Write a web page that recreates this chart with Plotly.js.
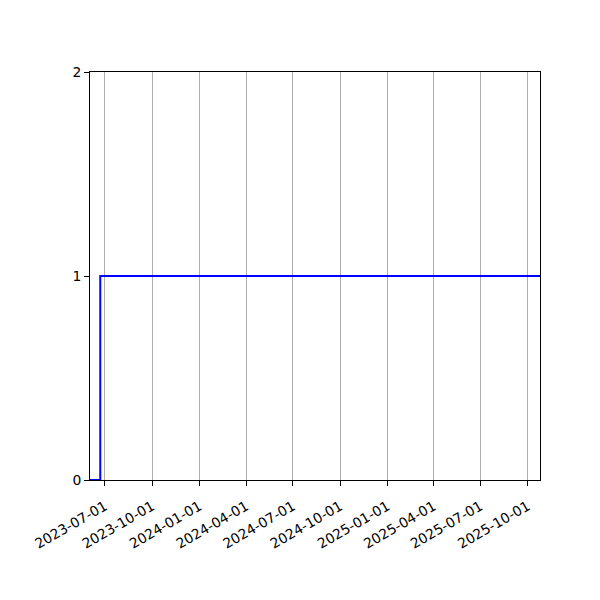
<!DOCTYPE html>
<html>
<head>
<meta charset="utf-8">
<script src="https://cdn.plot.ly/plotly-3.0.1.min.js"></script>
<style>
  html, body { margin: 0; padding: 0; background: #fff; }
  #chart { width: 600px; height: 600px; }
</style>
</head>
<body>
<div id="chart"></div>
<script>
// step series
const dates = ['2023-06-02', '2023-06-22', '2025-10-25'];
const values = [0, 1, 1];

const xTicks = ['2023-07-01', '2023-10-01', '2024-01-01', '2024-04-01', '2024-07-01',
  '2024-10-01', '2025-01-01', '2025-04-01', '2025-07-01', '2025-10-01'];
const yTicks = [0, 1, 2];

Plotly.newPlot('chart', [{
  x: dates,
  y: values,
  type: 'scatter',
  mode: 'lines',
  line: { shape: 'hv', color: 'blue', width: 2 },
  hoverinfo: 'skip'
}], {
  width: 600,
  height: 600,
  margin: { l: 90, r: 60, t: 72, b: 120 },
  paper_bgcolor: '#fff',
  plot_bgcolor: '#fff',
  showlegend: false,
  font: { family: 'DejaVu Sans', size: 13.9, color: '#000' },
  xaxis: {
    type: 'date',
    range: [dates[0], dates[dates.length - 1]],
    tickvals: xTicks,
    ticktext: xTicks,
    tickangle: -30,
    ticklabelstandoff: 7,
    ticks: 'outside',
    ticklen: 5,
    tickwidth: 1,
    tickcolor: '#000',
    showgrid: true,
    gridcolor: '#b0b0b0',
    gridwidth: 1,
    showline: true,
    linecolor: '#000',
    linewidth: 1,
    mirror: true,
    zeroline: false
  },
  yaxis: {
    range: [0, 2],
    tickvals: yTicks,
    ticktext: yTicks.map(String),
    ticks: 'outside',
    ticklen: 5,
    tickwidth: 1,
    tickcolor: '#000',
    showgrid: false,
    showline: true,
    linecolor: '#000',
    linewidth: 1,
    mirror: true,
    zeroline: false
  }
}, { displayModeBar: false, staticPlot: true });
</script>
</body>
</html>
